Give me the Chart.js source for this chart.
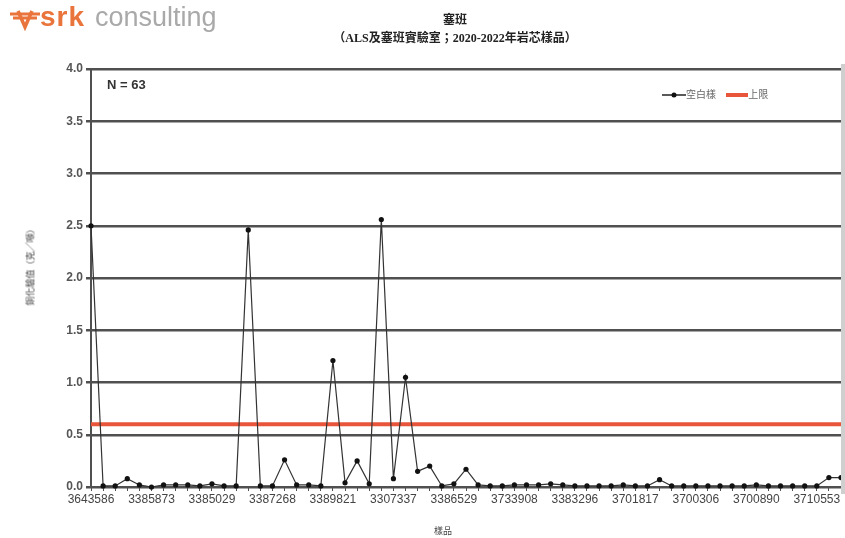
<!DOCTYPE html>
<html>
<head>
<meta charset="utf-8">
<script src="https://cdn.jsdelivr.net/npm/chart.js@4.4.1/dist/chart.umd.min.js"></script>
<style>
  body { margin: 0; background: #fff; }
  #wrap { position: relative; width: 845px; height: 538px; overflow: hidden; font-family: "Liberation Sans", Arial, sans-serif; }
  #wrap canvas { position: absolute; left: 0; top: 0; }
  .abs { position: absolute; white-space: nowrap; }
  .title { font-family: "Liberation Serif", "Noto Sans CJK TC", serif; font-weight: bold; font-size: 12px; color: #222; left: 0; width: 910px; text-align: center; }
</style>
</head>
<body>
<div id="wrap">
  <canvas id="blanks" width="845" height="538"></canvas>

  <!-- logo -->
  <svg class="abs" width="34" height="26" style="left:8px; top:5px;">
    <path d="M2 9 H32 M5 13 H29" stroke="#e9743c" stroke-width="3"/>
    <path d="M10 6 L17 22 L24 6" stroke="#e9743c" stroke-width="3.5" fill="none"/>
  </svg>
  <span class="abs" style="left:40px; top:3px; line-height:28px; font-size:28px; font-weight:bold; letter-spacing:1px; color:#e9743c;">srk</span>
  <span class="abs" style="left:95px; top:3px; line-height:28px; font-size:27px; color:#a9a9a9;">consulting</span>

  <div class="abs title" style="top:10px;">塞班</div>
  <div class="abs title" style="top:28px;">（ALS及塞班實驗室；2020-2022年岩芯樣品）</div>

  <div class="abs" style="left:107px; top:77px; font-size:13px; font-weight:bold; color:#333;">N = 63</div>

  <!-- legend -->
  <div class="abs" style="left:662px; top:86px; font-size:10px; color:#666; font-family:'Noto Sans CJK TC', sans-serif;">
    <svg width="24" height="10" style="vertical-align:middle;">
      <line x1="0" y1="5" x2="24" y2="5" stroke="#222" stroke-width="1.5"/>
      <circle cx="12" cy="5" r="2.5" fill="#111"/>
    </svg><span>空白樣</span>
    <svg width="22" height="10" style="vertical-align:middle; margin-left:8px;">
      <line x1="0" y1="5" x2="22" y2="5" stroke="#e8553a" stroke-width="4"/>
    </svg><span>上限</span>
  </div>

  <!-- axis titles -->
  <div class="abs" style="left:30px; top:265px; font-size:9px; color:#444; font-family:'Noto Sans CJK TC', sans-serif; transform: translate(-50%, -50%) rotate(-90deg);">銅化驗值（克╱噸）</div>
  <div class="abs" style="left:443px; top:524px; font-size:9px; color:#444; font-family:'Noto Sans CJK TC', sans-serif; transform: translateX(-50%);">樣品</div>

  <!-- grey right edge of the cropped chart -->
  <div class="abs" style="left:841px; top:64px; width:4px; height:430px; background:#cfcfcf;"></div>
</div>

<script>
// Blank samples, Saipan (ALS + Saipan lab, 2020-2022 core samples)
const SAMPLE_COUNT = 63;
const SAMPLES = Array.from({ length: SAMPLE_COUNT }, (_, i) => i + 1);

// only every fifth sample id is printed on the axis
const TICK_LABELS = ['3643586', '3385873', '3385029', '3387268', '3389821', '3307337',
                     '3386529', '3733908', '3383296', '3701817', '3700306', '3700890', '3710553'];

const BLANK_VALUES = [
    2.50, 0.01, 0.01, 0.08, 0.02, 0.00, 0.02, 0.02, 0.02, 0.01,
    0.03, 0.01, 0.01, 2.46, 0.01, 0.01, 0.26, 0.02, 0.02, 0.01,
    1.21, 0.04, 0.25, 0.03, 2.56, 0.08, 1.05, 0.15, 0.20, 0.01,
    0.03, 0.17, 0.02, 0.01, 0.01, 0.02, 0.02, 0.02, 0.03, 0.02,
    0.01, 0.01, 0.01, 0.01, 0.02, 0.01, 0.01, 0.07, 0.01, 0.01,
    0.01, 0.01, 0.01, 0.01, 0.01, 0.02, 0.01, 0.01, 0.01, 0.01,
    0.01, 0.09, 0.09
];

const UPPER_LIMIT = 0.6;
const Y_TICKS = [0, 0.5, 1, 1.5, 2, 2.5, 3, 3.5, 4];

const GRID = '#505050';

new Chart(document.getElementById('blanks'), {
    type: 'line',
    data: {
        labels: SAMPLES,
        datasets: [{
            label: '上限',
            data: SAMPLES.map(() => UPPER_LIMIT),
            borderColor: '#e8553a',
            borderWidth: 4,
            pointRadius: 0,
            order: 2
        }, {
            label: '空白樣',
            data: BLANK_VALUES,
            borderColor: '#333',
            borderWidth: 1.2,
            pointRadius: 2.6,
            pointBackgroundColor: '#111',
            pointBorderColor: '#111',
            pointBorderWidth: 0,
            tension: 0,
            clip: false,
            order: 1
        }]
    },
    options: {
        responsive: false,
        animation: false,
        devicePixelRatio: 1,
        layout: { padding: { left: 0, right: 2, top: 69, bottom: 0 } },
        plugins: { legend: { display: false }, tooltip: { enabled: false } },
        scales: {
            x: {
                offset: false,
                afterFit: (s) => { s.height = 51; },
                grid: { drawOnChartArea: false, drawTicks: true, tickLength: 4, color: GRID },
                border: { color: GRID, width: 2 },
                ticks: {
                    autoSkip: false,
                    maxRotation: 0,
                    padding: 1,
                    color: '#444',
                    font: { size: 12, family: 'Liberation Sans' },
                    callback: (v, i) => (i % 5 === 0 ? TICK_LABELS[i / 5] : '')
                }
            },
            y: {
                min: 0,
                max: 4,
                afterFit: (s) => { s.width = 91; },
                afterBuildTicks: (s) => { s.ticks = Y_TICKS.map(v => ({ value: v })); },
                grid: { color: GRID, lineWidth: 2.5, tickLength: 5 },
                border: { color: GRID, width: 2 },
                ticks: {
                    padding: 3,
                    color: '#555',
                    font: { size: 12, weight: 'bold', family: 'Liberation Sans' },
                    callback: (v) => v.toFixed(1)
                }
            }
        }
    }
});
</script>
</body>
</html>
